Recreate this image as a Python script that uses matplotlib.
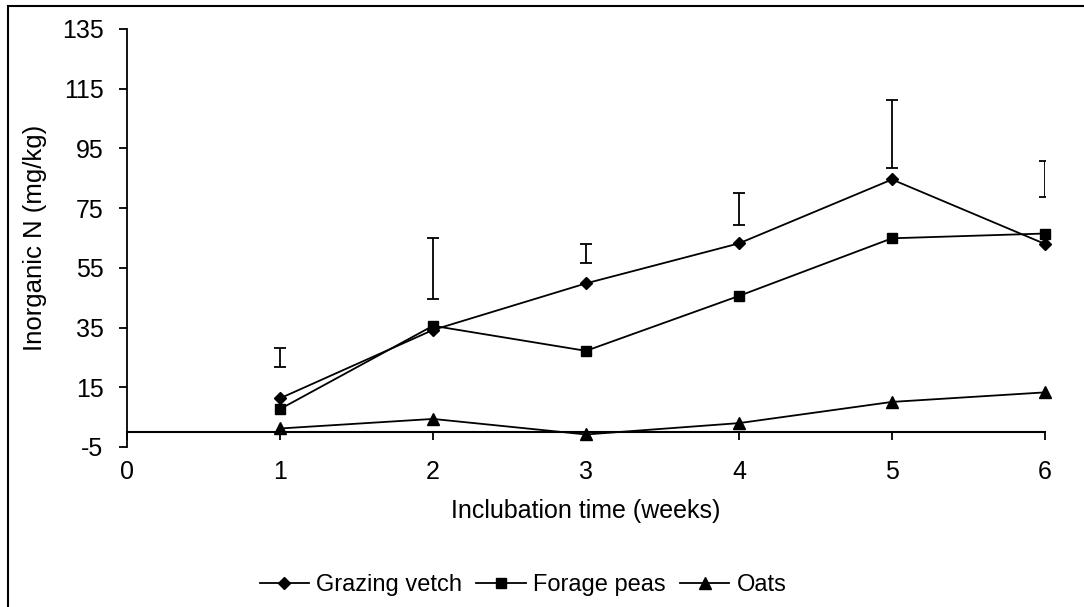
import matplotlib.pyplot as plt
from matplotlib.patches import Rectangle

plt.rcParams['font.family'] = ['Liberation Sans', 'DejaVu Sans']
plt.rcParams['axes.unicode_minus'] = False

weeks = [1, 2, 3, 4, 5, 6]
grazing_vetch = [11.3, 34.2, 49.8, 63.2, 84.6, 63.0]
forage_peas = [7.7, 35.6, 27.2, 45.6, 64.9, 66.5]
oats = [1.2, 4.4, -0.8, 3.0, 10.1, 13.3]

# standalone LSD-style bars (lower and upper ends)
bar_low = [21.7, 44.5, 56.7, 69.3, 88.3, 78.8]
bar_high = [28.0, 64.9, 63.0, 80.1, 111.2, 90.9]

yticks = [-5, 15, 35, 55, 75, 95, 115, 135]
xticks = [0, 1, 2, 3, 4, 5, 6]

fig = plt.figure(figsize=(10.84, 6.07), dpi=100)
ax = fig.add_axes([127 / 1084, 1 - 447 / 607, 918 / 1084, 418 / 607])

# outer frame (right and bottom edges fall outside the picture)
fig.patches.append(Rectangle((8 / 1084, -0.05), 1.1, 1 - 6 / 607 + 0.05,
                             transform=fig.transFigure, fill=False,
                             edgecolor='black', linewidth=1.5))

ax.plot(weeks, grazing_vetch, color='black', lw=1.3, marker='D', ms=6.5,
        label='Grazing vetch', clip_on=False)
ax.plot(weeks, forage_peas, color='black', lw=1.3, marker='s', ms=6.5,
        label='Forage peas', clip_on=False)
ax.plot(weeks, oats, color='black', lw=1.3, marker='^', ms=8,
        label='Oats', clip_on=False)

centers = [(lo + hi) / 2 for lo, hi in zip(bar_low, bar_high)]
half = [(hi - lo) / 2 for lo, hi in zip(bar_low, bar_high)]
ax.errorbar(weeks, centers, yerr=half, fmt='none', ecolor='black',
            elinewidth=1.3, capsize=4.5, capthick=1.3)

ax.set_xlim(0, 6)
ax.set_ylim(-5, 135)
ax.set_yticks(yticks)
ax.set_xticks(xticks)

for s in ['top', 'right']:
    ax.spines[s].set_visible(False)
ax.spines['left'].set_linewidth(1.3)
ax.spines['bottom'].set_position(('data', 0))
ax.spines['bottom'].set_linewidth(1.5)

ax.tick_params(axis='y', direction='out', length=6, width=1.3,
               labelsize=18, pad=11)
ax.tick_params(axis='x', direction='out', length=6, width=1.3,
               labelsize=18, pad=14)

ax.set_ylabel('Inorganic N (mg/kg)', fontsize=18.5)
ax.yaxis.set_label_coords(-0.087, 0.5)
ax.set_xlabel('Inclubation time (weeks)', fontsize=18)
ax.xaxis.set_label_coords(0.5, -0.125)

ax.legend(loc='center', bbox_to_anchor=(523 / 1084, (607 - 585) / 607),
          bbox_transform=fig.transFigure, ncol=3, frameon=False,
          fontsize=17, handlelength=2.1, columnspacing=0.6,
          handletextpad=0.3)

fig.savefig('out.png', dpi=100)
